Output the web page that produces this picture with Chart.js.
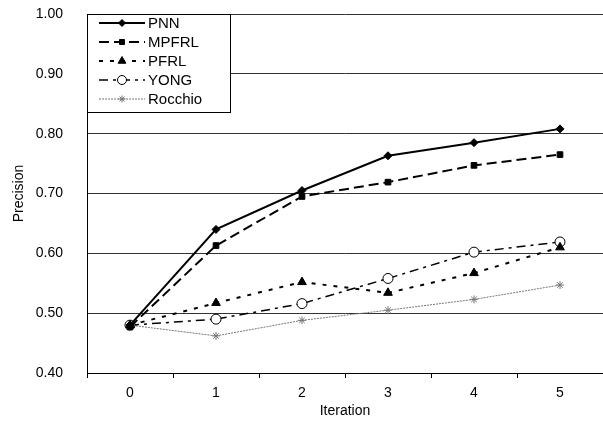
<!DOCTYPE html>
<html lang="en">
<head>
    <meta charset="UTF-8">
    <title>Precision vs Iteration</title>
    <script src="https://cdn.jsdelivr.net/npm/chart.js@4.4.0/dist/chart.umd.min.js"></script>
    <style>
        * { margin: 0; padding: 0; box-sizing: border-box; }
        body { background: #ffffff; width: 603px; height: 423px; overflow: hidden; }
        #wrap { width: 603px; height: 423px; }
    </style>
</head>
<body>
    <div id="wrap"><canvas id="precChart" width="603" height="423"></canvas></div>

    <script>
        // data
        const iterations = ['0', '1', '2', '3', '4', '5'];
        const pnn      = [0.480, 0.640, 0.705, 0.763, 0.785, 0.808];
        const mpfrl    = [0.477, 0.613, 0.695, 0.719, 0.747, 0.765];
        const pfrl     = [0.480, 0.517, 0.552, 0.534, 0.567, 0.610];
        const yong     = [0.480, 0.490, 0.516, 0.558, 0.602, 0.619];
        const rocchio  = [0.480, 0.462, 0.488, 0.505, 0.523, 0.547];
        const yTicks   = [0.40, 0.50, 0.60, 0.70, 0.80, 0.90, 1.00];

        const FONT = 'Arial, "Liberation Sans", sans-serif';

        const series = [
            { label: 'PNN', data: pnn, color: '#000', width: 2, dash: [], point: 'rectRot', radius: 4, fill: true },
            { label: 'MPFRL', data: mpfrl, color: '#000', width: 2, dash: [10, 5], point: 'rect', radius: 4, fill: true },
            { label: 'PFRL', data: pfrl, color: '#000', width: 2, dash: [4, 7], point: 'triangle', radius: 5, fill: true },
            { label: 'YONG', data: yong, color: '#000', width: 1.5, dash: [9, 5, 3, 5], point: 'circle', radius: 5, fill: false },
            { label: 'Rocchio', data: rocchio, color: '#777', width: 1, dash: [2, 1], point: 'star', radius: 4, fill: false }
        ];

        // legend box drawn inside the plot, top-left
        const boxLegend = {
            id: 'boxLegend',
            afterDraw(chart) {
                const ctx = chart.ctx;
                const a = chart.chartArea;
                const x0 = a.left, y0 = a.top, w = 143, h = 98;
                ctx.save();
                ctx.fillStyle = '#fff';
                ctx.fillRect(x0, y0, w, h);
                ctx.strokeStyle = '#000';
                ctx.lineWidth = 1;
                ctx.strokeRect(x0 + 0.5, y0 + 0.5, w, h);
                ctx.font = '15px ' + FONT;
                ctx.textBaseline = 'middle';
                series.forEach((s, i) => {
                    const y = y0 + 9 + i * 19;
                    ctx.strokeStyle = s.color;
                    ctx.lineWidth = s.width;
                    ctx.setLineDash(s.dash);
                    ctx.beginPath();
                    ctx.moveTo(x0 + 12, y);
                    ctx.lineTo(x0 + 58, y);
                    ctx.stroke();
                    ctx.setLineDash([]);
                    ctx.fillStyle = s.fill ? s.color : '#fff';
                    ctx.lineWidth = 1;
                    Chart.helpers.drawPoint(ctx, { pointStyle: s.point, radius: s.radius - 0.5, borderWidth: 1 }, x0 + 35, y);
                    ctx.fillStyle = '#000';
                    ctx.fillText(s.label, x0 + 61, y + 1);
                });
                ctx.restore();
            }
        };

        const ctx = document.getElementById('precChart').getContext('2d');
        new Chart(ctx, {
            type: 'line',
            data: {
                labels: iterations,
                datasets: series.map(s => ({
                    label: s.label,
                    data: s.data,
                    borderColor: s.color,
                    borderWidth: s.width,
                    borderDash: s.dash,
                    backgroundColor: s.fill ? s.color : '#fff',
                    pointStyle: s.point,
                    pointRadius: s.radius,
                    pointBorderColor: s.color,
                    pointBackgroundColor: s.fill ? s.color : '#fff',
                    pointBorderWidth: 1,
                    tension: 0,
                    fill: false
                }))
            },
            options: {
                responsive: false,
                animation: false,
                devicePixelRatio: 1,
                layout: { autoPadding: false, padding: { top: 14, right: 0, left: 0, bottom: 0 } },
                plugins: {
                    legend: { display: false },
                    tooltip: { enabled: false }
                },
                scales: {
                    x: {
                        offset: true,
                        border: { color: '#000', width: 1 },
                        grid: { drawOnChartArea: false, drawTicks: true, tickLength: 5, offset: true, color: '#000' },
                        ticks: { color: '#000', font: { family: FONT, size: 14 }, padding: 7 },
                        title: { display: true, text: 'Iteration', color: '#000', font: { family: FONT, size: 14 }, padding: { top: 0, bottom: 3 } },
                        afterFit(scale) { scale.height = 50; scale.paddingLeft = 0; scale.paddingRight = 0; }
                    },
                    y: {
                        min: 0.4,
                        max: 1.0,
                        afterBuildTicks(scale) { scale.ticks = yTicks.map(v => ({ value: v })); },
                        border: { color: '#000', width: 1 },
                        grid: { color: '#333', lineWidth: 1, drawTicks: false },
                        ticks: {
                            color: '#000',
                            font: { family: FONT, size: 14 },
                            padding: 24,
                            callback: v => v.toFixed(2)
                        },
                        title: { display: true, text: 'Precision', color: '#000', font: { family: FONT, size: 14 }, padding: { top: 11, bottom: 0 } },
                        afterFit(scale) { scale.width = 87; scale.paddingTop = 0; scale.paddingBottom = 0; }
                    }
                }
            },
            plugins: [boxLegend]
        });
    </script>
</body>
</html>
